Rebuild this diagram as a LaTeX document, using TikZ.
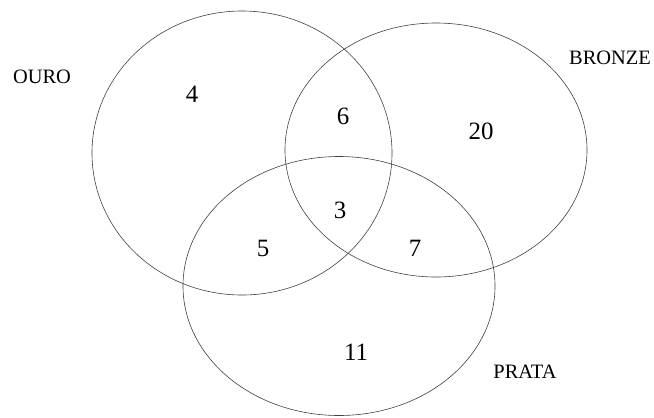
\documentclass[tikz,border=0pt]{standalone}
\usepackage{fontspec}
\setmainfont{Liberation Serif}
\usetikzlibrary{shapes.geometric}
\begin{document}
\begin{tikzpicture}[x=1bp,y=-1bp,
  setshape/.style={ellipse, draw=black!75, line width=0.6bp, inner sep=0pt},
  setlabel/.style={font=\fontsize{20.5}{24}\selectfont, inner sep=0pt},
  count/.style={font=\fontsize{25}{30}\selectfont, inner sep=0pt}]
\useasboundingbox (0,0) rectangle (654,417);
\node[setshape, minimum width=300bp, minimum height=284bp] (ouro) at (242,153) {};
\node[setshape, minimum width=302bp, minimum height=254bp] (bronze) at (436,150) {};
\node[setshape, minimum width=312bp, minimum height=259bp] (prata) at (339,286) {};
\node[setlabel] (lo) at (42,77) {OURO};
\node[setlabel] (lb) at (610,58) {BRONZE};
\node[setlabel] (lp) at (525,372) {PRATA};
\node[count] (n4) at (192,94) {4};
\node[count] (n6) at (343,116) {6};
\node[count] (n20) at (481,131) {20};
\node[count] (n3) at (340,210) {3};
\node[count] (n5) at (263,248) {5};
\node[count] (n7) at (415,248) {7};
\node[count] (n11) at (356,352) {11};
\end{tikzpicture}
\end{document}
